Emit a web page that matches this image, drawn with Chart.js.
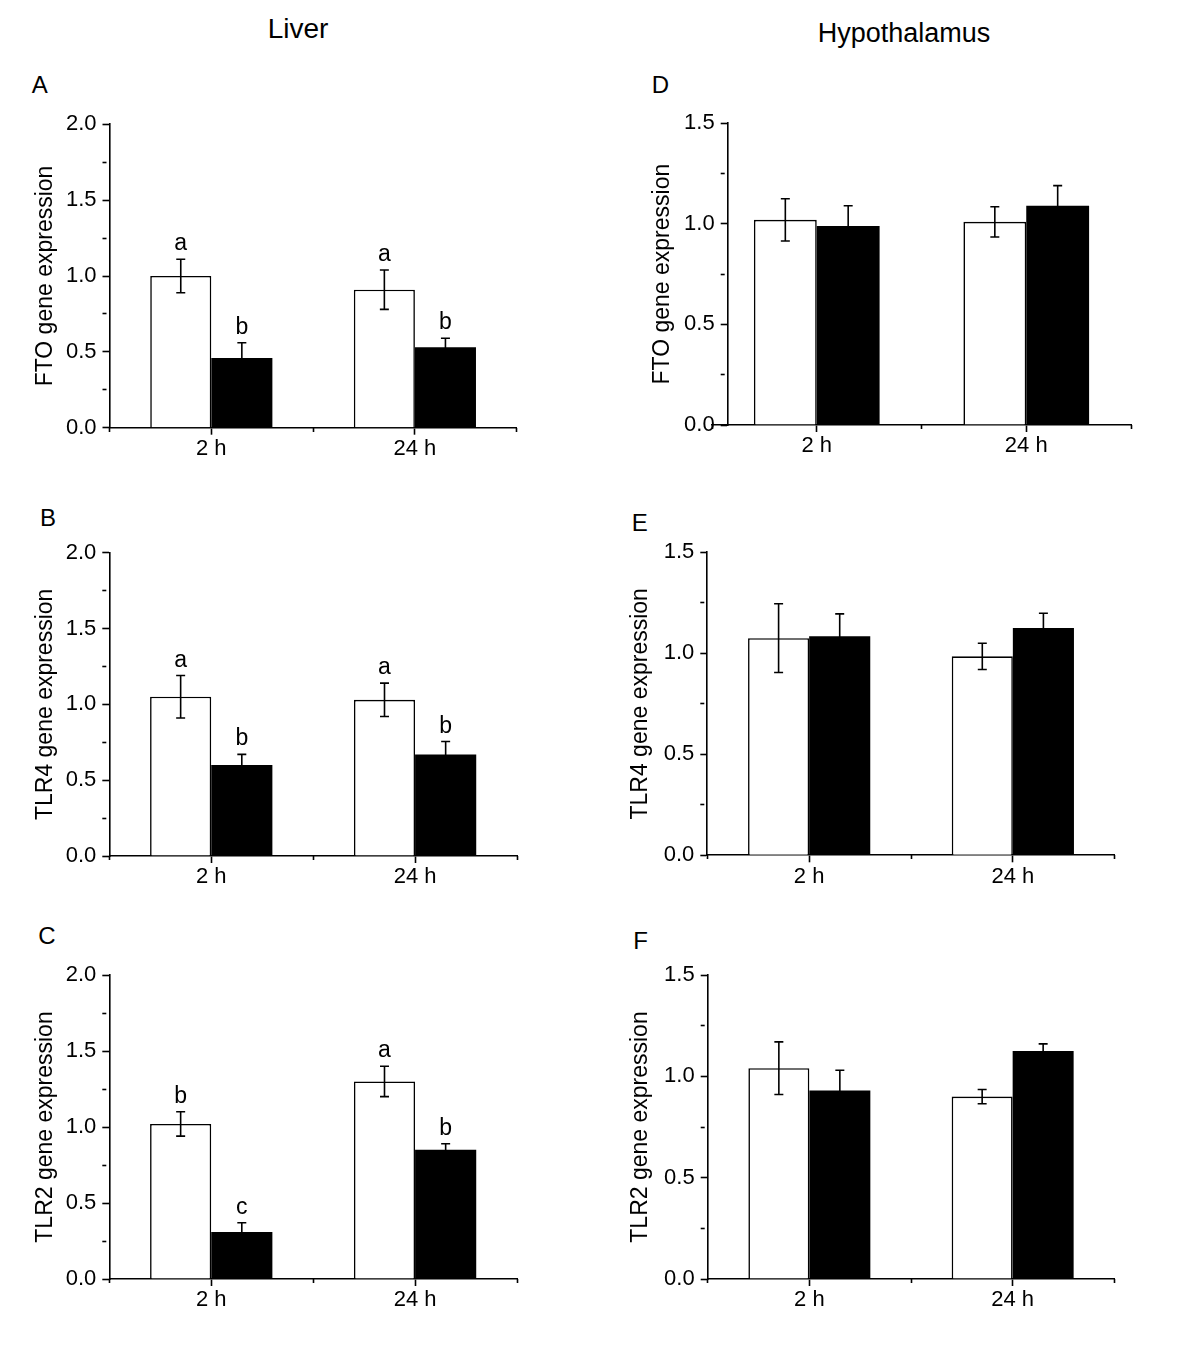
<!DOCTYPE html>
<html>
<head>
<meta charset="utf-8">
<script src="https://cdn.jsdelivr.net/npm/chart.js@4.4.0/dist/chart.umd.min.js"></script>
<style>
html,body{margin:0;padding:0;background:#fff;}
body{width:1200px;height:1351px;position:relative;overflow:hidden;font-family:"Liberation Sans",Arial,sans-serif;color:#000;}
.t{position:absolute;white-space:nowrap;}
canvas{position:absolute;}
</style>
</head>
<body>
<div class="t" style="left:198px;width:200px;text-align:center;top:14.6px;font-size:28px;line-height:28px;">Liver</div>
<div class="t" style="left:754px;width:300px;text-align:center;top:19.5px;font-size:27px;line-height:27px;">Hypothalamus</div>
<div class="t" style="left:31.7px;top:73.3px;font-size:24px;line-height:24px;">A</div>
<div class="t" style="left:651.7px;top:73.3px;font-size:24px;line-height:24px;">D</div>
<div class="t" style="left:40px;top:505.8px;font-size:24px;line-height:24px;">B</div>
<div class="t" style="left:631.7px;top:510.8px;font-size:24px;line-height:24px;">E</div>
<div class="t" style="left:38.3px;top:923.8px;font-size:24px;line-height:24px;">C</div>
<div class="t" style="left:633.3px;top:928.8px;font-size:24px;line-height:24px;">F</div>
<script>
// ---------------- DATA ----------------
const categories = ['2 h', '24 h'];
const liverYTicks = ['0.0', '0.5', '1.0', '1.5', '2.0'];
const hypoYTicks = ['0.0', '0.5', '1.0', '1.5'];

// Liver FTO (A)
const ftoLiverWhite = [1.00, 0.91];
const ftoLiverWhiteErr = [0.11, 0.13];
const ftoLiverBlack = [0.46, 0.53];
const ftoLiverBlackErr = [0.10, 0.06];
const ftoLiverWhiteLetters = ['a', 'a'];
const ftoLiverBlackLetters = ['b', 'b'];

// Liver TLR4 (B)
const tlr4LiverWhite = [1.05, 1.03];
const tlr4LiverWhiteErr = [0.14, 0.11];
const tlr4LiverBlack = [0.60, 0.67];
const tlr4LiverBlackErr = [0.07, 0.085];
const tlr4LiverWhiteLetters = ['a', 'a'];
const tlr4LiverBlackLetters = ['b', 'b'];

// Liver TLR2 (C)
const tlr2LiverWhite = [1.02, 1.30];
const tlr2LiverWhiteErr = [0.08, 0.10];
const tlr2LiverBlack = [0.31, 0.85];
const tlr2LiverBlackErr = [0.06, 0.04];
const tlr2LiverWhiteLetters = ['b', 'a'];
const tlr2LiverBlackLetters = ['c', 'b'];

// Hypothalamus FTO (D)
const ftoHypoWhite = [1.02, 1.01];
const ftoHypoWhiteErr = [0.105, 0.075];
const ftoHypoBlack = [0.99, 1.09];
const ftoHypoBlackErr = [0.10, 0.10];

// Hypothalamus TLR4 (E)
const tlr4HypoWhite = [1.075, 0.985];
const tlr4HypoWhiteErr = [0.17, 0.065];
const tlr4HypoBlack = [1.085, 1.125];
const tlr4HypoBlackErr = [0.11, 0.073];

// Hypothalamus TLR2 (F)
const tlr2HypoWhite = [1.04, 0.90];
const tlr2HypoWhiteErr = [0.13, 0.035];
const tlr2HypoBlack = [0.93, 1.125];
const tlr2HypoBlackErr = [0.10, 0.035];

// ---------------- LAYOUT ----------------
const FONT = '"Liberation Sans", Arial, sans-serif';
const panels = [
  {yTitle: 'FTO gene expression', ticks: liverYTicks,
   white: ftoLiverWhite, whiteErr: ftoLiverWhiteErr, black: ftoLiverBlack, blackErr: ftoLiverBlackErr,
   whiteLetters: ftoLiverWhiteLetters, blackLetters: ftoLiverBlackLetters,
   g: {col: 0, yAxisX: 109.5, right: 516.7, top: 124.3, bottom: 427.7, titleX: 45.5}},
  {yTitle: 'TLR4 gene expression', ticks: liverYTicks,
   white: tlr4LiverWhite, whiteErr: tlr4LiverWhiteErr, black: tlr4LiverBlack, blackErr: tlr4LiverBlackErr,
   whiteLetters: tlr4LiverWhiteLetters, blackLetters: tlr4LiverBlackLetters,
   g: {col: 0, yAxisX: 109.3, right: 517, top: 552.7, bottom: 856, titleX: 45.7}},
  {yTitle: 'TLR2 gene expression', ticks: liverYTicks,
   white: tlr2LiverWhite, whiteErr: tlr2LiverWhiteErr, black: tlr2LiverBlack, blackErr: tlr2LiverBlackErr,
   whiteLetters: tlr2LiverWhiteLetters, blackLetters: tlr2LiverBlackLetters,
   g: {col: 0, yAxisX: 109.3, right: 517, top: 975, bottom: 1279, titleX: 45.7}},
  {yTitle: 'FTO gene expression', ticks: hypoYTicks,
   white: ftoHypoWhite, whiteErr: ftoHypoWhiteErr, black: ftoHypoBlack, blackErr: ftoHypoBlackErr,
   whiteLetters: [], blackLetters: [],
   g: {col: 600, yAxisX: 727.7, xLeft: 712, right: 1131, top: 123.3, bottom: 425, titleX: 662.5}},
  {yTitle: 'TLR4 gene expression', ticks: hypoYTicks,
   white: tlr4HypoWhite, whiteErr: tlr4HypoWhiteErr, black: tlr4HypoBlack, blackErr: tlr4HypoBlackErr,
   whiteLetters: [], blackLetters: [],
   g: {col: 600, yAxisX: 707.3, right: 1114.7, top: 552.3, bottom: 855.3, titleX: 641}},
  {yTitle: 'TLR2 gene expression', ticks: hypoYTicks,
   white: tlr2HypoWhite, whiteErr: tlr2HypoWhiteErr, black: tlr2HypoBlack, blackErr: tlr2HypoBlackErr,
   whiteLetters: [], blackLetters: [],
   g: {col: 600, yAxisX: 707.7, right: 1114.3, top: 975, bottom: 1279, titleX: 641}}
];

const LW = 1.6;
function isMajor(v) { const k = v / 0.5; return Math.abs(k - Math.round(k)) < 1e-6; }

const errorBarPlugin = {
  id: 'errorBars',
  afterDatasetsDraw(chart, args, opts) {
    const p = opts.panel;
    const ctx = chart.ctx;
    const ys = chart.scales.y;
    const errs = [p.whiteErr, p.blackErr];
    const vals = [p.white, p.black];
    const letters = [p.whiteLetters, p.blackLetters];
    ctx.save();
    ctx.strokeStyle = '#000';
    ctx.fillStyle = '#000';
    ctx.lineWidth = LW;
    ctx.font = '23px ' + FONT;
    ctx.textAlign = 'center';
    ctx.textBaseline = 'alphabetic';
    for (let d = 0; d < 2; d++) {
      const meta = chart.getDatasetMeta(d);
      meta.data.forEach((el, i) => {
        const v = vals[d][i], e = errs[d][i];
        const yt = ys.getPixelForValue(v + e);
        const yb = ys.getPixelForValue(v - e);
        const x = el.x;
        ctx.beginPath();
        ctx.moveTo(x, yt); ctx.lineTo(x, yb);
        ctx.moveTo(x - 4.5, yt); ctx.lineTo(x + 4.5, yt);
        ctx.moveTo(x - 4.5, yb); ctx.lineTo(x + 4.5, yb);
        ctx.stroke();
        const L = letters[d][i];
        if (L) ctx.fillText(L, x, yt - 9);
      });
    }
    ctx.restore();
  }
};

const shiftPlugin = {
  id: 'shiftX',
  afterLayout(chart, args, opts) {
    if (opts.left == null) return;
    ['x', 'x2'].forEach(id => {
      const s = chart.scales[id];
      s.left = opts.left;
      s.width = s.right - s.left;
      s.configure();
    });
  }
};

panels.forEach(p => {
  const g = p.g;
  const cx = g.col;
  const cy = Math.floor(g.top) - 22;
  const padTop = g.top - cy;
  const cw = Math.ceil(g.right + 20 - cx);
  const padRight = cx + cw - g.right;
  const ch = Math.ceil(g.bottom + 55 - cy);
  const xH = cy + ch - g.bottom;
  const canvas = document.createElement('canvas');
  canvas.width = cw; canvas.height = ch;
  canvas.style.left = cx + 'px'; canvas.style.top = cy + 'px';
  canvas.style.width = cw + 'px'; canvas.style.height = ch + 'px';
  document.body.appendChild(canvas);
  const yMax = parseFloat(p.ticks[p.ticks.length - 1]);
  new Chart(canvas, {
    type: 'bar',
    data: {
      labels: categories,
      datasets: [
        {data: p.white, backgroundColor: '#fff', borderColor: '#000', borderWidth: LW,
         xAxisID: 'x', yAxisID: 'y', categoryPercentage: 0.6, barPercentage: 1.0},
        {data: p.black, backgroundColor: '#000', borderColor: '#000', borderWidth: 0,
         xAxisID: 'x', yAxisID: 'y', categoryPercentage: 0.6, barPercentage: 1.0}
      ]
    },
    options: {
      responsive: false,
      animation: false,
      devicePixelRatio: 1,
      layout: {padding: {top: padTop, right: padRight, left: 0, bottom: 0}},
      plugins: {
        legend: {display: false},
        tooltip: {enabled: false},
        errorBars: {panel: p},
        shiftX: {left: g.xLeft != null ? g.xLeft - cx : null}
      },
      scales: {
        x: {
          type: 'category', axis: 'x', position: 'bottom', offset: true, z: 1,
          grid: {offset: false, drawOnChartArea: false, tickLength: 7, tickWidth: LW, tickColor: '#000'},
          border: {color: '#000', width: LW},
          ticks: {padding: 1, color: '#000', font: {family: FONT, size: 22}, maxRotation: 0, autoSkip: false},
          afterFit: (s) => { s.height = xH; }
        },
        x2: {
          type: 'category', axis: 'x', position: {y: 0}, offset: true, z: 1,
          grid: {offset: true, drawOnChartArea: false, tickLength: 4, tickWidth: LW, tickColor: '#000'},
          border: {display: false},
          ticks: {display: false}
        },
        y: {
          type: 'linear', axis: 'y', position: 'left', min: 0, max: yMax, z: 1,
          ticks: {
            stepSize: 0.25, autoSkip: false, padding: 6, color: '#000',
            font: {family: FONT, size: 22},
            callback: (v) => { const k = Math.round(v / 0.5); return isMajor(v) ? p.ticks[k] : ''; }
          },
          grid: {
            drawOnChartArea: false, tickLength: 7, tickWidth: LW, tickColor: '#000',
            tickBorderDash: (c) => (c.tick && !isMajor(c.tick.value)) ? [4, 40] : []
          },
          border: {color: '#000', width: LW},
          title: {display: true, text: p.yTitle, color: '#000', font: {family: FONT, size: 23},
                  padding: {top: g.titleX - cx - 13.8, bottom: 0}},
          afterFit: (s) => { s.width = g.yAxisX - cx; }
        }
      }
    },
    plugins: [errorBarPlugin, shiftPlugin]
  });
});
</script>
</body>
</html>
